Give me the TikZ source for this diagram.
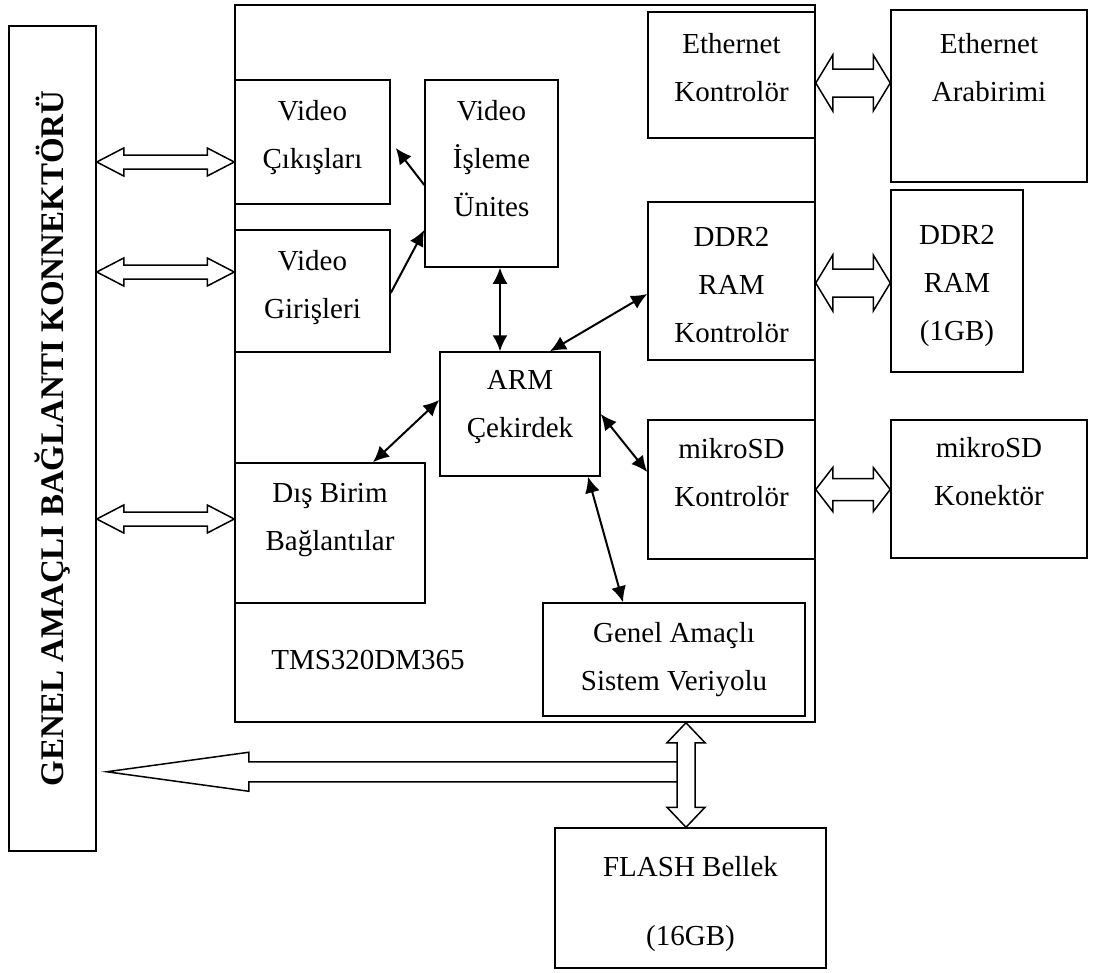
\documentclass[tikz,border=0pt]{standalone}
\usepackage{fontspec}
\setmainfont{Liberation Serif}
\usetikzlibrary{arrows.meta,calc}
\newcommand{\metin}{\fontsize{29}{48}\selectfont}
\newcommand{\kalinmetin}{\fontsize{33}{40}\selectfont\bfseries}
\tikzset{
    %Define standard arrow tip
    >={Latex[length=16pt,width=15pt]},
    %Define style for boxes
    kutu/.style={
           rectangle,
           draw=black, line width=1.5pt,
           inner sep=0pt},
    %Define style for the text in the boxes
    yazi/.style={
           align=center,
           inner sep=0pt,
           font=\metin},
    % Define arrow style
    pil/.style={
           <->,
           line width=2pt},
    tekpil/.style={
           ->,
           line width=2pt},
    % Define hollow bus arrows: head length, head half width, shaft half width
    yatayok/.style n args={3}{
           draw=black, line width=1.5pt,
           to path={let \p1=(\tikztostart), \p2=(\tikztotarget) in
              (\x1,\y1) -- (\x1+#1,\y1+#2) -- (\x1+#1,\y1+#3) -- (\x2-#1,\y1+#3)
              -- (\x2-#1,\y1+#2) -- (\x2,\y1) -- (\x2-#1,\y1-#2) -- (\x2-#1,\y1-#3)
              -- (\x1+#1,\y1-#3) -- (\x1+#1,\y1-#2) -- cycle}},
    dikeyok/.style n args={3}{
           draw=black, line width=1.5pt,
           to path={let \p1=(\tikztostart), \p2=(\tikztotarget) in
              (\x1,\y1) -- (\x1+#2,\y1-#1) -- (\x1+#3,\y1-#1) -- (\x1+#3,\y2+#1)
              -- (\x1+#2,\y2+#1) -- (\x1,\y2) -- (\x1-#2,\y2+#1) -- (\x1-#3,\y2+#1)
              -- (\x1-#3,\y1-#1) -- (\x1-#2,\y1-#1) -- cycle}},
    solok/.style={yatayok={27pt}{14pt}{7pt}},
    sagok/.style={yatayok={17pt}{28pt}{14pt}}
}

\begin{document}
\begin{tikzpicture}[x=1pt, y=-1pt]
 \useasboundingbox (0,0) rectangle (1094,972);

 % connector on the left
 \node[kutu, minimum width=87pt, minimum height=825pt] (konn) at (52.5,438.5)
   {\rotatebox{90}{\kalinmetin GENEL AMAÇLI BAĞLANTI KONNEKTÖRÜ}};

 % processor
 \node[kutu, minimum width=580pt, minimum height=717pt] (chip) at (525,363.5) {};
 \node[yazi] (chipad) at (368,660) {TMS320DM365};

 \node[kutu, minimum width=155pt, minimum height=124pt,
   label={[yazi,yshift=4pt]center:Video\\Çıkışları}] (vout) at (312.5,142) {};
 \node[kutu, minimum width=155pt, minimum height=122pt,
   label={[yazi,yshift=3pt]center:Video\\Girişleri}] (vin) at (312.5,291) {};
 \node[kutu, minimum width=133pt, minimum height=187pt,
   label={[yazi,yshift=15pt]center:Video\\İşleme\\Ünites}] (vproc) at (491.5,173.5) {};
 \node[kutu, minimum width=160pt, minimum height=124pt,
   label={[yazi,yshift=7pt]center:ARM\\Çekirdek}] (arm) at (520,414) {};
 \node[kutu, minimum width=190pt, minimum height=140pt,
   label={[yazi,yshift=13pt]center:Dış Birim\\Bağlantılar}] (ext) at (330,533) {};
 \node[kutu, minimum width=262pt, minimum height=113pt,
   label={[yazi]center:Genel Amaçlı\\Sistem Veriyolu}] (bus) at (674,659.5) {};
 \node[kutu, minimum width=167pt, minimum height=126pt,
   label={[yazi,yshift=7pt]center:Ethernet\\Kontrolör}] (ethc) at (731.5,75) {};
 \node[kutu, minimum width=167pt, minimum height=158pt,
   label={[yazi,yshift=-4pt]center:DDR2\\RAM\\Kontrolör}] (ddrc) at (731.5,281) {};
 \node[kutu, minimum width=167pt, minimum height=139pt,
   label={[yazi,yshift=17pt]center:mikroSD\\Kontrolör}] (sdc) at (731.5,489.5) {};

 % outside parts
 \node[kutu, minimum width=196pt, minimum height=172pt,
   label={[yazi,yshift=28pt]center:Ethernet\\Arabirimi}] (ethi) at (989,96) {};
 \node[kutu, minimum width=132pt, minimum height=182pt,
   label={[yazi,yshift=-5pt]center:DDR2\\RAM\\(1GB)}] (ddr) at (957,281) {};
 \node[kutu, minimum width=196pt, minimum height=138pt,
   label={[yazi,yshift=17pt]center:mikroSD\\Konektör}] (sdk) at (989,489) {};
 \node[kutu, minimum width=271pt, minimum height=140pt,
   label={[yazi,yshift=-6pt]center:FLASH Bellek\\[21pt](16GB)}] (flash) at (690.5,898) {};

 % thin arrows inside the processor
 \draw[tekpil] ([yshift=-11.5pt]vproc.west) -- ([xshift=5pt,yshift=-6pt]vout.east);
 \draw[tekpil] ([yshift=-2pt]vin.east) -- ([yshift=-56.5pt]vproc.west);
 \draw[pil] ([xshift=8.5pt]vproc.south) -- ([xshift=-20pt]arm.north);
 \draw[pil] ([xshift=30pt]arm.north) -- ([yshift=-13pt]ddrc.west);
 \draw[pil] ([yshift=14pt]arm.west) -- ([xshift=43pt]ext.north);
 \draw[pil] (arm.east) -- ([yshift=17.5pt]sdc.west);
 \draw[pil] ([xshift=68pt]arm.south) -- ([xshift=-51pt]bus.north);

 % hollow bus arrows
 \coordinate (voutok) at ([yshift=-20pt]vout.west);
 \coordinate (vinok) at ([yshift=19pt]vin.west);
 \coordinate (extok) at ([yshift=14pt]ext.west);
 \draw[solok] (konn.east |- voutok) to (voutok);
 \draw[solok] (konn.east |- vinok) to (vinok);
 \draw[solok] (konn.east |- extok) to (extok);

 \coordinate (ethok) at ([yshift=-8pt]ethc.east);
 \coordinate (ddrok) at ([yshift=-2pt]ddrc.east);
 \draw[sagok] (ethok) to (ethi.west |- ethok);
 \draw[sagok] (ddrok) to (ddr.west |- ddrok);
 \draw[yatayok={17pt}{22pt}{11pt}] (sdc.east) to (sdk.west |- sdc.east);

 \coordinate (flashok) at ([xshift=161pt]chip.south);
 \draw[dikeyok={20pt}{19pt}{9pt}] (flashok) to (flashok |- flash.north);

 % big arrow back to the connector
 \coordinate (kol) at ($(flashok)+(-9,49)$);
 \coordinate (koluc) at ([xshift=10pt]konn.east |- kol);
 \draw[line width=1.5pt] let \p1=(kol), \p2=(koluc) in
   (\x1,\y1+10pt) -- (\x2+142pt,\y1+10pt) -- (\x2+142pt,\y1+19.5pt) -- (\x2,\y1)
   -- (\x2+142pt,\y1-19.5pt) -- (\x2+142pt,\y1-10pt) -- (\x1,\y1-10pt);

\end{tikzpicture}
\end{document}
